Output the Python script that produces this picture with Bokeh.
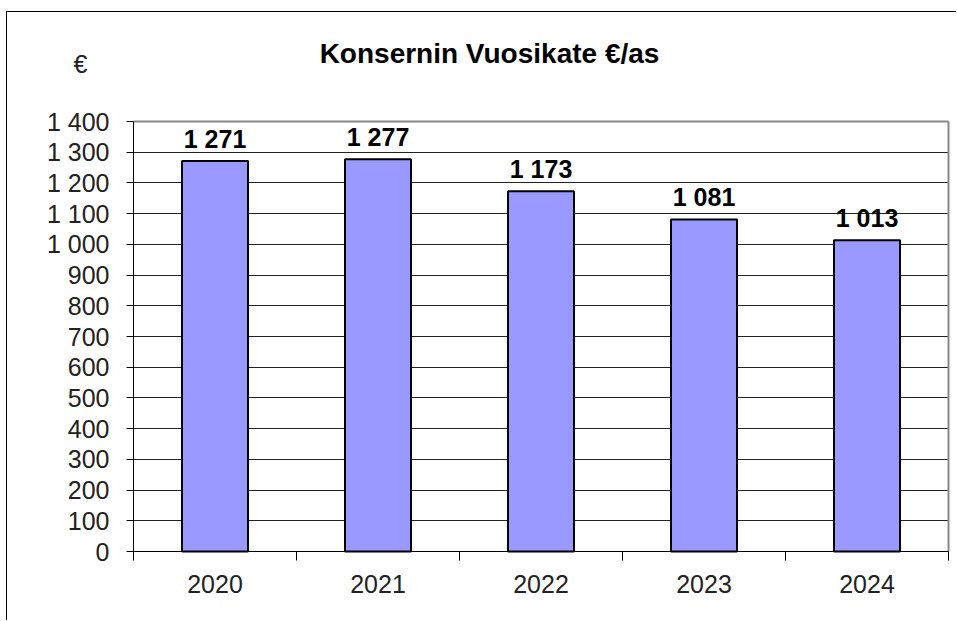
from bokeh.plotting import figure
from bokeh.models import ColumnDataSource, FixedTicker, LabelSet, Label, Range1d, Grid
from bokeh.core.properties import value
from bokeh.embed import file_html
from bokeh.resources import INLINE

# ---- data ----
years = ["2020", "2021", "2022", "2023", "2024"]
values = [1271, 1277, 1173, 1081, 1013]
y_ticks = [0, 100, 200, 300, 400, 500, 600, 700, 800, 900, 1000, 1100, 1200, 1300, 1400]
y_tick_labels = ["0", "100", "200", "300", "400", "500", "600", "700", "800", "900",
                 "1 000", "1 100", "1 200", "1 300", "1 400"]
title_text = "Konsernin Vuosikate €/as"
unit_text = "€"

FONT = "Liberation Sans"

# ---- layout constants (page pixels) ----
PX_CAT = 163.0            # pixels per category
Y_MAX = y_ticks[-1]
PX_VAL = 430.0 / Y_MAX    # pixels per value unit
AX_LEFT, AX_TOP, AX_BOTTOM = 133, 121, 551   # plot-area edges on page
FR_LEFT, FR_TOP, FR_RIGHT, FR_BOTTOM = 20, 30, 951, 612

n = len(years)
x_start = -(AX_LEFT - FR_LEFT) / PX_CAT
x_end = n + (FR_RIGHT - (AX_LEFT + n * PX_CAT)) / PX_CAT
y_start = -(FR_BOTTOM - AX_BOTTOM) / PX_VAL
y_end = Y_MAX + (AX_TOP - FR_TOP) / PX_VAL

xs = [i + 0.5 for i in range(n)]
labels = [f"{v:,}".replace(",", " ") for v in values]
source = ColumnDataSource(dict(x=xs, top=values, label=labels))

p = figure(width=950, height=609, output_backend="svg", toolbar_location=None,
           x_range=Range1d(x_start, x_end), y_range=Range1d(y_start, y_end),
           min_border_left=FR_LEFT - 7, min_border_top=FR_TOP - 12,
           min_border_right=957 - FR_RIGHT, min_border_bottom=621 - FR_BOTTOM)
p.styles = {"border-left": "1px solid black", "border-top": "1px solid black",
            "margin-left": "6px", "margin-top": "11px"}
p.outline_line_color = None

# grid lines (behind bars)
p.xgrid.visible = False
p.ygrid.visible = False
has_cb = "cross_bounds" in Grid.properties()
if has_cb:
    p.add_layout(Grid(dimension=1, ticker=FixedTicker(ticks=y_ticks[1:-1]),
                      bounds=(-1, 2 * Y_MAX), cross_bounds=(0, n),
                      grid_line_color="#222222", grid_line_width=1))
    p.add_layout(Grid(dimension=1, ticker=FixedTicker(ticks=[Y_MAX]),
                      bounds=(-1, 2 * Y_MAX), cross_bounds=(0, n),
                      grid_line_color="#888888", grid_line_width=2))
    p.add_layout(Grid(dimension=0, ticker=FixedTicker(ticks=[n]),
                      bounds=(-1, 2 * n), cross_bounds=(0, Y_MAX),
                      grid_line_color="#888888", grid_line_width=2))
else:
    gy = y_ticks[1:-1]
    p.segment(x0=[0] * len(gy), x1=[n] * len(gy), y0=gy, y1=gy,
              line_color="#222222", line_width=1, level="underlay")
    p.segment(x0=[0], x1=[n], y0=[Y_MAX], y1=[Y_MAX],
              line_color="#888888", line_width=2, level="underlay")
    p.segment(x0=[n], x1=[n], y0=[0], y1=[Y_MAX],
              line_color="#888888", line_width=2, level="underlay")

p.vbar(x="x", top="top", width=0.405, source=source,
       fill_color="#9999FF", line_color="black", line_width=2)

# y axis, fixed at the plot-area edge
p.yaxis.fixed_location = 0
p.yaxis.bounds = (0, Y_MAX)
p.yaxis.ticker = FixedTicker(ticks=y_ticks)
p.yaxis.major_label_overrides = {t: l for t, l in zip(y_ticks, y_tick_labels)}
p.yaxis.major_tick_out = 7
p.yaxis.major_tick_in = 0
p.yaxis.minor_tick_line_color = None
p.yaxis.major_label_standoff = 17
p.yaxis.major_label_text_font = FONT
p.yaxis.major_label_text_font_size = "25px"
p.yaxis.major_label_text_color = "#222222"
p.yaxis.axis_line_color = "black"

# x axis: labels at centres, ticks at category boundaries
p.xaxis.fixed_location = 0
p.xaxis.bounds = (0, n)
p.xaxis.ticker = FixedTicker(ticks=xs, minor_ticks=list(range(n + 1)))
p.xaxis.major_label_overrides = {x: y for x, y in zip(xs, years)}
p.xaxis.major_tick_out = 0
p.xaxis.major_tick_in = 0
p.xaxis.minor_tick_out = 9
p.xaxis.minor_tick_in = 0
p.xaxis.minor_tick_line_color = "black"
p.xaxis.major_label_standoff = 14
p.xaxis.major_label_text_font = FONT
p.xaxis.major_label_text_font_size = "25px"
p.xaxis.major_label_text_color = "#222222"
p.xaxis.axis_line_color = "black"

# data labels
p.add_layout(LabelSet(x="x", y="top", text="label", source=source,
                      text_align="center", text_baseline="alphabetic",
                      y_offset=13, text_font=value(FONT), text_font_style="bold",
                      text_font_size="25px", text_color="black"))

# title and unit (inside the extended frame)
p.add_layout(Label(x=(489 - AX_LEFT) / PX_CAT, y=Y_MAX + (AX_TOP - 53) / PX_VAL,
                   text=title_text, text_align="center", text_baseline="alphabetic",
                   text_font=FONT, text_font_style="bold", text_font_size="28px",
                   text_color="black"))
p.add_layout(Label(x=(80 - AX_LEFT) / PX_CAT, y=Y_MAX + (AX_TOP - 63) / PX_VAL,
                   text=unit_text, text_align="center", text_baseline="alphabetic",
                   text_font=FONT, text_font_size="25px", text_color="#222222"))

open("out.html", "w").write(file_html(p, INLINE))
